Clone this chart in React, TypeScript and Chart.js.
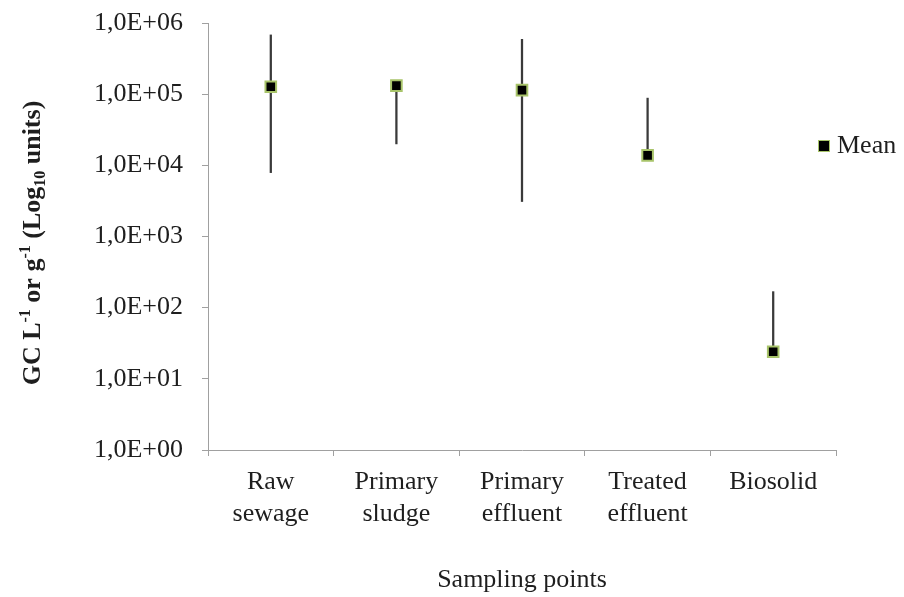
import React, { useEffect, useRef } from 'react';
import { Chart, registerables } from 'chart.js';

Chart.register(...registerables);

// ---- data ----
const categories: string[][] = [
  ['Raw', 'sewage'],
  ['Primary', 'sludge'],
  ['Primary', 'effluent'],
  ['Treated', 'effluent'],
  ['Biosolid'],
];
const meanValues = [1.27e5, 1.32e5, 1.14e5, 1.38e4, 24];
const lowValues = [7.9e3, 2.0e4, 3.1e3, 1.38e4, 24];
const highValues = [6.8e5, 1.32e5, 5.9e5, 8.8e4, 168];
const yTickValues = [1, 10, 100, 1e3, 1e4, 1e5, 1e6];
const seriesName = 'Mean';
const xTitle = 'Sampling points';
const yTitleParts: { text: string; mode: 'n' | 'sup' | 'sub' }[] = [
  { text: 'GC L', mode: 'n' },
  { text: '-1', mode: 'sup' },
  { text: ' or g', mode: 'n' },
  { text: '-1', mode: 'sup' },
  { text: ' (Log', mode: 'n' },
  { text: '10', mode: 'sub' },
  { text: ' units)', mode: 'n' },
];

const FONT_FAMILY = '"Liberation Serif", "Times New Roman", serif';
const TEXT_COLOR = '#1e1e1e';
const AXIS_COLOR = '#a0a0a0';
const MARKER_BORDER = '#a8c46a';

function formatTick(v: number): string {
  const e = Math.round(Math.log10(v));
  return '1,0E+' + String(e).padStart(2, '0');
}

const yTitlePlugin = {
  id: 'yTitleRich',
  afterDraw(chart: any) {
    const ctx = chart.ctx as CanvasRenderingContext2D;
    const base = 26;
    const small = 16;
    const fontFor = (m: string) =>
      `bold ${m === 'n' ? base : small}px ${FONT_FAMILY}`;
    let total = 0;
    const widths = yTitleParts.map((p) => {
      ctx.font = fontFor(p.mode);
      const w = ctx.measureText(p.text).width;
      total += w;
      return w;
    });
    const cx = 31;
    const cy = 243;
    ctx.save();
    ctx.translate(cx, cy);
    ctx.rotate(-Math.PI / 2);
    ctx.fillStyle = TEXT_COLOR;
    ctx.textBaseline = 'alphabetic';
    ctx.textAlign = 'left';
    let x = -total / 2;
    const baseY = 9;
    yTitleParts.forEach((p, i) => {
      ctx.font = fontFor(p.mode);
      let y = baseY;
      if (p.mode === 'sup') y = baseY - 10;
      if (p.mode === 'sub') y = baseY + 5;
      ctx.fillText(p.text, x, y);
      x += widths[i];
    });
    ctx.restore();
  },
};

const legendPlugin = {
  id: 'meanLegend',
  afterDraw(chart: any) {
    const ctx = chart.ctx as CanvasRenderingContext2D;
    const area = chart.chartArea;
    const cx = area.right - 12;
    const cy = 146;
    const s = 10;
    ctx.save();
    ctx.fillStyle = '#000';
    ctx.strokeStyle = MARKER_BORDER;
    ctx.lineWidth = 1;
    ctx.fillRect(cx - s / 2, cy - s / 2, s, s);
    ctx.strokeRect(cx - s / 2 - 0.5, cy - s / 2 - 0.5, s + 1, s + 1);
    ctx.font = `26px ${FONT_FAMILY}`;
    ctx.fillStyle = TEXT_COLOR;
    ctx.textBaseline = 'middle';
    ctx.textAlign = 'left';
    ctx.fillText(seriesName, cx + 13, cy);
    ctx.restore();
  },
};

export default function App() {
  const canvasRef = useRef<HTMLCanvasElement | null>(null);

  useEffect(() => {
    const canvas = canvasRef.current;
    if (!canvas) return;
    const font = { family: FONT_FAMILY, size: 26 };
    const chart = new Chart(canvas, {
      type: 'bar',
      data: {
        labels: categories,
        datasets: [
          {
            type: 'line',
            label: seriesName,
            data: meanValues,
            showLine: false,
            pointStyle: 'rect',
            pointRadius: 7.5,
            pointBackgroundColor: '#000',
            pointBorderColor: MARKER_BORDER,
            pointBorderWidth: 2,
            order: 0,
          } as any,
          {
            type: 'bar',
            label: 'range',
            data: lowValues.map((lo, i) => [lo, highValues[i]]),
            backgroundColor: '#3a3a3a',
            borderWidth: 0,
            barThickness: 1.6,
            order: 1,
          } as any,
        ],
      },
      options: {
        responsive: false,
        animation: false,
        layout: { padding: { top: 23, right: 68, left: 0, bottom: 0 } },
        plugins: {
          legend: { display: false },
          tooltip: { enabled: false },
        },
        scales: {
          x: {
            type: 'category',
            offset: true,
            grid: {
              offset: true,
              drawOnChartArea: false,
              tickLength: 6,
              color: AXIS_COLOR,
            },
            border: { color: AXIS_COLOR },
            ticks: {
              font,
              color: TEXT_COLOR,
              padding: 11,
              maxRotation: 0,
              autoSkip: false,
            },
            title: {
              display: true,
              text: xTitle,
              font,
              color: TEXT_COLOR,
              padding: { top: 0, bottom: 1 },
            },
            afterFit: (s: any) => {
              s.height = 597 - 450;
            },
          },
          y: {
            type: 'logarithmic',
            min: 1,
            max: 1e6,
            afterBuildTicks: (s: any) => {
              s.ticks = yTickValues.map((v) => ({ value: v }));
            },
            grid: {
              drawOnChartArea: false,
              tickLength: 6,
              color: AXIS_COLOR,
            },
            border: { color: AXIS_COLOR },
            ticks: {
              font,
              color: TEXT_COLOR,
              padding: 19,
              autoSkip: false,
              callback: (v: any) => formatTick(Number(v)),
            },
            afterFit: (s: any) => {
              s.width = 208;
              s.paddingTop = 0;
              s.paddingBottom = 0;
            },
          },
        },
      } as any,
      plugins: [yTitlePlugin, legendPlugin],
    });
    return () => chart.destroy();
  }, []);

  return (
    <div style={{ position: 'absolute', left: 0, top: 0, width: 904, height: 597, background: '#fff' }}>
      <canvas ref={canvasRef} width={904} height={597} />
    </div>
  );
}
